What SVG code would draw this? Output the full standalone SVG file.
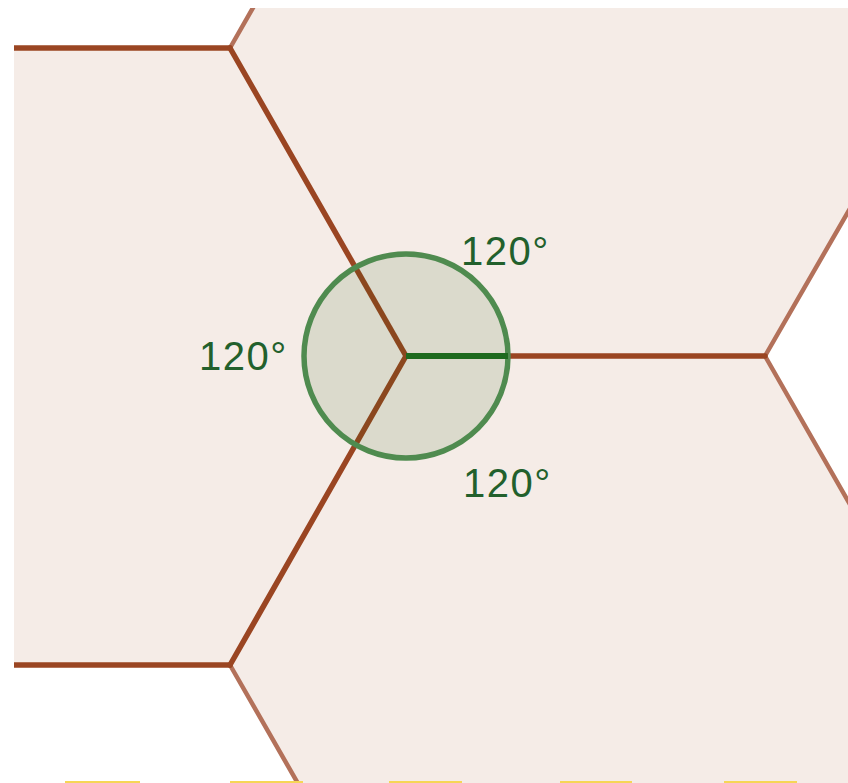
<svg xmlns="http://www.w3.org/2000/svg" width="848" height="783" viewBox="0 0 848 783">
  <style>
    .hex { fill: #F5ECE7; stroke: none; }
    .dark { stroke: #9A4522; stroke-width: 5.5; stroke-linecap: round; fill: none; }
    .light { stroke: #B3715A; stroke-width: 4.5; stroke-linecap: round; fill: none; }
    .lbl { font-family: "Liberation Sans", Arial, sans-serif; font-size: 40px; letter-spacing: 1.5px; fill: #22602C; }
    .bar { fill: #F6D656; }
  </style>
  <defs>
    <clipPath id="view">
      <rect x="14" y="8" width="834" height="775"/>
    </clipPath>
  </defs>
  <rect width="848" height="783" fill="#FFFFFF"/>
  <g clip-path="url(#view)">
    <g id="hex-top">
      <polygon class="hex" points="406,356 765,356 945,45 765,-265 406,-265 230,48"/>
    </g>
    <g id="hex-left">
      <polygon class="hex" points="406,356 230,48 -130,48 -310,356 -130,665 230,665"/>
    </g>
    <g id="hex-bottom">
      <polygon class="hex" points="406,356 230,665 408,973 765,973 945,665 765,356"/>
    </g>
    <g id="connectors">
      <line class="light" x1="230" y1="48" x2="254" y2="6"/>
      <line class="light" x1="765" y1="356" x2="852" y2="205"/>
      <line class="light" x1="765" y1="356" x2="852" y2="508"/>
      <line class="light" x1="230" y1="665" x2="300" y2="787"/>
      <line class="dark" x1="14" y1="48" x2="230" y2="48"/>
      <line class="dark" x1="14" y1="665" x2="230" y2="665"/>
      <line class="dark" x1="406" y1="356" x2="230" y2="48"/>
      <line class="dark" x1="406" y1="356" x2="230" y2="665"/>
      <line class="dark" x1="406" y1="356" x2="765" y2="356"/>
    </g>
  </g>
  <g id="angle">
    <circle cx="406" cy="356" r="102" fill="rgb(30,90,10)" fill-opacity="0.12" stroke="#4F8B4F" stroke-width="5.5"/>
    <line x1="406" y1="356" x2="508" y2="356" stroke="#1E6A1E" stroke-width="6"/>
  </g>
  <g id="labels">
    <text class="lbl" x="199" y="370">120°</text>
    <text class="lbl" x="461" y="265">120°</text>
    <text class="lbl" x="463" y="497">120°</text>
  </g>
  <g id="bottom-bars">
    <rect class="bar" x="65" y="781" width="75" height="2"/>
    <rect class="bar" x="230" y="781" width="73" height="2"/>
    <rect class="bar" x="389" y="781" width="73" height="2"/>
    <rect class="bar" x="560" y="781" width="72" height="2"/>
    <rect class="bar" x="724" y="781" width="73" height="2"/>
  </g>
</svg>
